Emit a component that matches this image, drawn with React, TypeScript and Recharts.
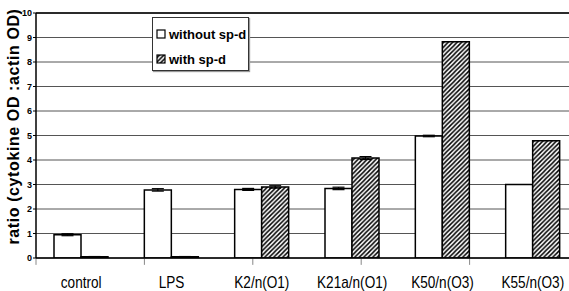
import { BarChart, Bar, XAxis, YAxis, CartesianGrid, Legend, ErrorBar, ReferenceLine } from "recharts";

const categories = ["control", "LPS", "K2/n(O1)", "K21a/n(O1)", "K50/n(O3)", "K55/n(O3)"];
const withoutSpd = [0.95, 2.78, 2.8, 2.84, 4.98, 3.0];
const withoutErr = [0.04, 0.05, 0.04, 0.05, 0.03, 0];
const withSpd = [0.05, 0.05, 2.9, 4.08, 8.83, 4.79];
const withErr = [0.01, 0.01, 0.05, 0.06, 0, 0];
const yTicks = [0, 1, 2, 3, 4, 5, 6, 7, 8, 9, 10];
const boundaryTicks = [0, 1, 2, 3, 4, 5, 6];

const data = categories.map((name, i) => ({
  name,
  without: withoutSpd[i],
  withoutErr: withoutErr[i],
  with: withSpd[i],
  withErr: withErr[i],
}));

const font = "'Liberation Sans', Arial, sans-serif";

// narrow-looking category labels
const CategoryTick = (props: any) => {
  const { x, y, payload } = props;
  return (
    <g transform={`translate(${x},${y + 30}) scale(0.85,1)`}>
      <text textAnchor="middle" fontSize={16} fontFamily={font} fill="#000">
        {payload.value}
      </text>
    </g>
  );
};

const LegendBox = () => (
  <div
    style={{
      width: 97,
      height: 54,
      border: "1px solid #333",
      background: "#fff",
      boxShadow: "1px 1px 1px #999",
      fontFamily: font,
      fontWeight: "bold",
      fontSize: 13,
      whiteSpace: "nowrap",
      boxSizing: "border-box",
      paddingLeft: 3,
      paddingTop: 8,
    }}
  >
    <div style={{ display: "flex", alignItems: "center", height: 16, marginBottom: 9 }}>
      <svg width={10} height={10} style={{ marginRight: 3 }}>
        <rect x={1} y={1} width={8} height={8} fill="#fff" stroke="#000" strokeWidth={1.2} />
      </svg>
      without sp-d
    </div>
    <div style={{ display: "flex", alignItems: "center", height: 16 }}>
      <svg width={10} height={10} style={{ marginRight: 3 }}>
        <rect x={1} y={1} width={8} height={8} fill="url(#hatch)" stroke="#000" strokeWidth={1.2} />
      </svg>
      with sp-d
    </div>
  </div>
);

export default function App() {
  return (
    <div style={{ position: "absolute", left: 0, top: 0, width: 569, height: 291, overflow: "hidden", background: "#fff" }}>
      <BarChart
        width={578}
        height={291}
        data={data}
        margin={{ top: 13, right: 0, left: 0, bottom: 0 }}
        barGap={0}
        barSize={27}
      >
        <defs>
          <pattern id="hatch" patternUnits="userSpaceOnUse" width={4.5} height={4.5}>
            <rect width={4.5} height={4.5} fill="#fff" />
            <path d="M-1,1 l2,-2 M0,4.5 l4.5,-4.5 M3.5,5.5 l2,-2" stroke="#000" strokeWidth={1.5} />
          </pattern>
        </defs>
        <CartesianGrid vertical={false} stroke="#555" strokeWidth={1} />
        <XAxis xAxisId="b" type="number" domain={[0, 6]} hide />
        <XAxis
          dataKey="name"
          height={33}
          axisLine={{ stroke: "#000", strokeWidth: 1.5 }}
          tickLine={false}
          tickSize={0}
          tickMargin={0}
          tick={<CategoryTick />}
          interval={0}
        />
        <YAxis
          width={36}
          domain={[0, 10]}
          ticks={yTicks}
          allowDataOverflow
          axisLine={{ stroke: "#000", strokeWidth: 1.5 }}
          tickLine={{ stroke: "#000" }}
          tickSize={3}
          tickMargin={1}
          tick={{ fontSize: 9, fontWeight: "bold", fill: "#000", fontFamily: font }}
          label={{
            value: "ratio (cytokine OD :actin OD)",
            angle: -90,
            position: "insideLeft",
            dx: 8,
            dy: -9,
            style: { fontSize: 16, fontWeight: "bold", fill: "#000", fontFamily: font, textAnchor: "middle", letterSpacing: 0.6 },
          }}
        />
        <ReferenceLine y={10} stroke="#000" strokeWidth={1.5} />
        {boundaryTicks.map((t) => (
          <ReferenceLine
            key={t}
            xAxisId="b"
            segment={[{ x: t, y: 0 }, { x: t, y: -0.28 }]}
            ifOverflow="visible"
            stroke="#888"
            strokeWidth={1}
          />
        ))}
        <Legend
          layout="vertical"
          align="center"
          verticalAlign="middle"
          content={() => <LegendBox />}
          wrapperStyle={{ left: 152, top: 17, width: 97 }}
        />
        <Bar dataKey="without" fill="#fff" stroke="#000" strokeWidth={1.5} isAnimationActive={false}>
          <ErrorBar dataKey="withoutErr" width={6} stroke="#000" strokeWidth={1.2} direction="y" />
        </Bar>
        <Bar dataKey="with" fill="url(#hatch)" stroke="#000" strokeWidth={1.5} isAnimationActive={false}>
          <ErrorBar dataKey="withErr" width={6} stroke="#000" strokeWidth={1.2} direction="y" />
        </Bar>
      </BarChart>
    </div>
  );
}
